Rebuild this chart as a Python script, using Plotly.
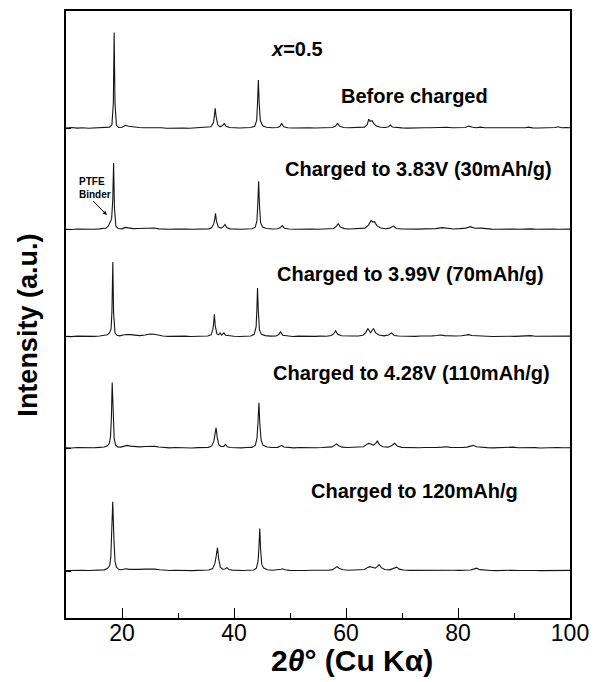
import plotly.graph_objects as go

# ---- data (2theta, intensity above each pattern's baseline, a.u.) ----
before_charged = [(10,0.3),(11,0.8),(12,0.2),(13,0.6),(14,0.1),(15,0.5),(16,0.2),(17,0.6),(17.8,1.2),(18.2,3.5),(18.45,25),(18.6,96),(18.75,25),(19.0,3),(19.4,0.8),(20.0,1.0),(20.6,3.0),(21.2,2.0),(22,1.2),(23,0.8),(24,0.6),(25,0.8),(26,0.3),(27,0.5),(28,0.1),(29,0.4),(30,0.0),(31,0.3),(32,0.1),(33,0.4),(34,0.2),(35,0.6),(35.9,1.5),(36.35,6),(36.55,15),(36.65,20),(36.8,12),(37.1,3.5),(37.5,1.5),(37.9,2.5),(38.25,4.7),(38.6,2),(39.2,0.8),(40,0.5),(41,0.3),(42,0.6),(43,0.8),(43.7,2),(44.05,8),(44.2,25),(44.35,48.4),(44.5,25),(44.7,8),(45.1,2.5),(45.8,1),(46.8,0.5),(47.8,0.8),(48.2,2),(48.5,4.7),(48.9,1.5),(49.6,0.5),(50.5,0.3),(51.5,0.6),(52.5,0.2),(53.5,0.5),(54.5,0.3),(55.5,0.6),(56.5,0.4),(57.5,0.8),(58.1,2),(58.5,5),(58.9,2),(59.6,0.8),(60.5,0.5),(61.5,0.7),(62.5,0.6),(63.3,1.2),(63.8,3.5),(64.05,9.3),(64.3,7),(64.65,7.7),(65.0,4.5),(65.5,2),(66.2,1),(67,0.8),(67.6,1.5),(67.9,3.3),(68.3,1.2),(69,0.6),(70,0.4),(71,0.2),(72,0.5),(73,0.3),(74,0.6),(75,0.5),(76,0.8),(77.2,1.5),(78,1.0),(79,0.6),(80,0.8),(80.7,1.2),(81.3,0.8),(81.9,2.2),(82.6,1.0),(83.3,0.6),(84,1.2),(84.8,0.5),(86,0.4),(87,0.2),(88,0.5),(89,0.3),(90,0.4),(91,0.2),(92,0.5),(92.6,1.2),(93.3,0.4),(94.5,0.3),(95.5,0.5),(96.5,0.3),(97.3,0.8),(97.9,1.5),(98.5,0.6),(99.3,0.8),(100,0.5)]

charged_383V = [(10,0.4),(11,0.1),(12,0.6),(13,0.3),(14,0.7),(15,0.4),(16,0.8),(16.8,1.0),(17.2,1.6),(17.6,4),(17.9,7),(18.15,11),(18.35,30),(18.5,66.7),(18.65,22),(18.9,3.5),(19.3,1.2),(20.0,0.8),(20.6,2.2),(21.2,1.6),(22,1.0),(23,1.2),(24,1.5),(25,2.0),(25.8,1.6),(26.6,0.8),(27.5,0.5),(28.5,0.3),(29.5,0.6),(30.5,0.2),(31.5,0.5),(32.5,0.3),(33.5,0.6),(34.5,0.4),(35.5,0.8),(36.0,1.8),(36.4,6),(36.6,12),(36.7,16.3),(36.85,9),(37.2,2.5),(37.7,1.5),(38.1,3),(38.4,5.2),(38.7,2),(39.3,0.8),(40.2,0.5),(41.2,0.3),(42.2,0.7),(43.2,0.9),(43.8,2.5),(44.1,9),(44.25,26),(44.4,48.4),(44.55,24),(44.75,7),(45.1,2.5),(45.8,1.2),(46.8,0.6),(47.8,0.9),(48.3,2),(48.6,4),(49,1.4),(49.8,0.6),(51,0.4),(52,0.7),(53,0.4),(54,0.6),(55,0.3),(56,0.7),(57,0.6),(57.8,1.2),(58.3,3.5),(58.6,5.9),(59,2.5),(59.7,1.0),(60.6,0.6),(61.6,0.8),(62.6,0.7),(63.4,1.5),(64.0,4.5),(64.5,9.3),(64.8,7.5),(65.1,8),(65.5,4),(66.1,1.8),(67,0.9),(67.8,1.5),(68.45,3.5),(69,1.2),(70,0.6),(71,0.4),(72,0.7),(73,0.5),(74,0.8),(75,0.6),(76,1.0),(77.2,2.0),(78.2,1.0),(79.2,0.7),(80.3,1.0),(81.4,1.5),(82.2,3),(83,1.4),(84.1,1.5),(85,0.7),(86,0.5),(87,0.3),(88,0.6),(89,0.4),(90,0.6),(91,0.3),(92,0.6),(93,0.8),(94,0.4),(95,0.6),(96,0.3),(97,0.6),(98,0.4),(99,0.7),(100,0.5)]

charged_399V = [(10,0.5),(11,0.2),(12,0.7),(13,0.4),(14,0.8),(15,0.5),(16,0.9),(16.8,1.2),(17.4,2),(17.8,4.5),(18.05,8),(18.2,25),(18.36,75),(18.5,24),(18.75,4),(19.1,1.5),(19.6,1.0),(20.2,1.8),(20.8,2.4),(21.5,2.2),(22.3,1.6),(23.2,1.2),(24.1,1.8),(25,2.8),(25.8,2.6),(26.5,1.5),(27.3,0.8),(28.3,0.5),(29.3,0.8),(30.3,0.4),(31.3,0.7),(32.3,0.3),(33.3,0.6),(34.3,0.5),(35.3,0.9),(35.9,2),(36.25,8),(36.4,16),(36.5,22.6),(36.65,11),(36.95,3),(37.25,2),(37.5,4),(37.8,1.6),(38.2,4),(38.5,1.5),(39.1,0.9),(40,0.6),(41,0.4),(42,0.8),(43,0.9),(43.6,2.5),(43.95,10),(44.08,27),(44.2,49),(44.35,25),(44.55,7),(44.9,2.5),(45.6,1.2),(46.5,0.7),(47.5,0.9),(48.0,2.2),(48.3,5),(48.7,1.5),(49.5,0.7),(50.5,0.4),(51.5,0.7),(52.5,0.4),(53.5,0.8),(54.5,0.5),(55.5,0.7),(56.5,0.6),(57.4,1.3),(57.85,3.5),(58.15,6),(58.5,2.5),(59.2,1.1),(60.2,0.7),(61.2,0.9),(62.2,0.8),(63,1.6),(63.5,4),(63.9,8.4),(64.4,4),(64.9,8.4),(65.3,4),(65.9,1.8),(66.8,1.0),(67.6,1.8),(68.1,4),(68.6,1.4),(69.4,0.8),(70.4,0.5),(71.4,0.7),(72.4,0.5),(73.4,0.8),(74.4,0.6),(75.4,1.0),(76.2,1.3),(76.9,1.8),(77.6,1.2),(78.6,0.8),(79.6,0.9),(80.6,1.1),(81.3,1.4),(81.9,2.2),(82.5,1.4),(83.3,1.0),(84.2,0.8),(85.2,0.6),(86.2,0.4),(87.2,0.7),(88.2,0.4),(89.2,0.6),(90.2,0.5),(91.2,0.7),(92.2,0.8),(93,1.2),(93.8,0.6),(95,0.5),(96,0.7),(97,0.4),(98,0.6),(99,0.5),(100,0.7)]

charged_428V = [(10,0.6),(11,0.3),(12,0.8),(13,0.5),(14,0.9),(15,0.6),(16,1.0),(16.8,1.4),(17.4,2.5),(17.75,5),(17.95,12),(18.1,30),(18.25,66),(18.4,32),(18.6,10),(18.85,3.5),(19.2,1.5),(19.8,1.2),(20.4,2.0),(20.9,3.0),(21.5,2.2),(22.3,1.6),(23.2,1.5),(24.1,1.8),(25,2.2),(25.8,2.0),(26.6,1.3),(27.5,0.8),(28.5,0.5),(29.5,0.8),(30.5,0.5),(31.5,0.7),(32.5,0.4),(33.5,0.7),(34.5,0.6),(35.4,1.0),(36.0,2.2),(36.4,7),(36.6,14),(36.8,20.7),(37.0,11),(37.3,3.5),(37.7,1.8),(38.15,2),(38.5,4),(38.8,1.6),(39.4,0.9),(40.3,0.6),(41.3,0.5),(42.3,0.8),(43.2,1.0),(43.8,3),(44.1,10),(44.28,26),(44.45,45.7),(44.62,24),(44.85,8),(45.2,3),(45.9,1.3),(46.8,0.8),(47.8,1.0),(48.2,2),(48.5,3),(48.9,1.3),(49.7,0.7),(50.7,0.5),(51.7,0.8),(52.7,0.5),(53.7,0.8),(54.7,0.6),(55.7,0.8),(56.7,0.8),(57.5,1.5),(58.0,3.2),(58.3,4.5),(58.7,2.6),(59.3,1.2),(60.3,0.8),(61.3,0.9),(62.3,0.8),(63.1,1.6),(63.6,3.5),(64.0,5),(64.5,4.4),(64.9,3.2),(65.3,5),(65.6,7.3),(66.0,3.5),(66.6,1.6),(67.5,1.2),(68.2,2.8),(68.7,5),(69.2,2),(70,1.0),(71,0.7),(72,0.8),(73,0.6),(74,0.9),(75,0.7),(76,0.9),(77.2,1.2),(77.9,1.6),(78.7,1.0),(79.7,0.8),(80.7,0.9),(81.6,1.2),(82.2,2.0),(82.7,3),(83.3,1.6),(84.2,0.9),(85.2,0.7),(86.2,0.5),(87.2,0.8),(88.2,0.6),(89.2,0.9),(89.9,1.2),(90.7,0.6),(91.7,0.8),(92.7,0.5),(93.7,0.7),(94.7,0.4),(95.7,0.7),(96.7,0.5),(97.7,0.8),(98.7,0.6),(99.5,0.9),(100,0.6)]

charged_120mAh = [(10,0.5),(11,0.8),(12,0.4),(13,0.9),(14,0.6),(15,1.0),(16,0.7),(16.8,1.3),(17.4,2.5),(17.8,5.5),(18.0,14),(18.15,35),(18.35,69.6),(18.55,33),(18.75,10),(19.0,4),(19.4,1.8),(19.9,1.4),(20.4,2.0),(20.7,2.4),(21.3,1.8),(22.2,1.6),(23.1,1.8),(24.0,2.0),(25.0,2.2),(25.9,2.0),(26.7,1.4),(27.5,1.0),(28.5,0.7),(29.5,0.9),(30.5,0.6),(31.5,0.8),(32.5,0.5),(33.5,0.8),(34.5,0.7),(35.5,1.1),(36.2,2.5),(36.6,8),(36.85,16),(37.05,23.5),(37.25,13),(37.55,4),(37.95,1.9),(38.4,2.2),(38.75,3.5),(39.1,1.6),(39.7,1.0),(40.6,0.7),(41.6,0.6),(42.6,0.9),(43.5,1.1),(44.0,3),(44.3,10),(44.45,24),(44.6,42.6),(44.75,22),(44.95,7),(45.3,3),(46,1.4),(46.9,0.9),(47.9,1.1),(48.4,1.8),(48.7,2.4),(49.1,1.3),(49.9,0.8),(50.9,0.6),(51.9,0.9),(52.9,0.6),(53.9,0.9),(54.9,0.7),(55.9,0.9),(56.9,0.9),(57.6,1.5),(58.1,3.2),(58.4,4.5),(58.8,2.6),(59.5,1.3),(60.5,0.9),(61.5,1.0),(62.5,0.9),(63.3,1.7),(63.8,3.5),(64.2,4.5),(64.7,3.8),(65.2,3.0),(65.6,4.5),(65.9,6.6),(66.3,3.5),(66.9,1.6),(67.8,1.3),(68.5,2.8),(69.05,4),(69.5,2),(70.3,1.1),(71.3,0.8),(72.3,0.9),(73.3,0.7),(74.3,1.0),(75.3,0.8),(76.3,0.9),(77.4,1.1),(78.3,1.4),(79.2,0.9),(80.2,0.8),(81.2,0.9),(82.2,1.2),(82.8,2.0),(83.3,3),(83.9,1.5),(84.8,0.9),(85.8,0.7),(86.8,0.5),(87.8,0.8),(88.8,0.6),(89.8,0.9),(90.8,0.6),(91.8,0.8),(92.8,0.5),(93.8,0.7),(94.8,0.5),(95.8,0.7),(96.8,0.5),(97.8,0.8),(98.8,0.6),(99.5,1.2),(100,0.8)]

patterns = [before_charged, charged_383V, charged_399V, charged_428V, charged_120mAh]
pattern_labels = ["Before charged", "Charged to 3.83V (30mAh/g)", "Charged to 3.99V (70mAh/g)",
                  "Charged to 4.28V (110mAh/g)", "Charged to 120mAh/g"]
# vertical stacking offset of each pattern's baseline (a.u.)
baselines = [491.0, 389.4, 281.9, 170.1, 47.0]
x_ticks = [20, 40, 60, 80, 100]
x_minor = [30, 50, 70, 90]

FONT = "Liberation Sans, Arial, sans-serif"
fig = go.Figure()
for pat, base, name in zip(patterns, baselines, pattern_labels):
    xs = [p[0] for p in pat]
    ys = [p[1] + base for p in pat]
    fig.add_trace(go.Scatter(x=xs, y=ys, mode="lines", name=name,
                             line=dict(color="#151515", width=1.1), showlegend=False))

ann = []
label_pos = [(72.3, 523.6), (73.0, 449.9), (71.6, 344.9), (71.7, 245.9), (72.2, 126.9)]
for (lx, ly), txt in zip(label_pos, pattern_labels):
    ann.append(dict(x=lx, y=ly, xref="x", yref="y", text="<b>%s</b>" % txt, showarrow=False,
                    font=dict(family=FONT, size=20, color="black")))
ann.append(dict(x=51.2, y=571, xref="x", yref="y", text="<b><i>x</i>=0.5</b>", showarrow=False,
                font=dict(family=FONT, size=20, color="black")))
ann.append(dict(x=12.0, y=431, xref="x", yref="y", text="<b>PTFE<br>Binder</b>", showarrow=False,
                xanchor="left", align="left", font=dict(family=FONT, size=10, color="black")))
ann.append(dict(x=17.3, y=404, xref="x", yref="y", ax=14.6, ay=419.5, axref="x", ayref="y",
                text="", showarrow=True, arrowhead=2, arrowsize=0.8, arrowwidth=1, arrowcolor="black"))
ann.append(dict(x=-0.075, y=0.482, xref="paper", yref="paper", text="<b>Intensity (a.u.)</b>",
                xanchor="center", yanchor="middle",
                showarrow=False, textangle=-90, font=dict(family=FONT, size=27, color="black")))
ann.append(dict(x=0.568, y=-0.0705, xref="paper", yref="paper", xanchor="center", yanchor="middle",
                text="<b>2<i>θ</i>° (Cu Kα)</b>",
                showarrow=False, font=dict(family=FONT, size=30, color="black")))

fig.update_layout(
    width=598, height=682, margin=dict(l=66, r=28, t=9, b=64),
    paper_bgcolor="white", plot_bgcolor="white", annotations=ann,
    xaxis=dict(range=[10, 100], tickvals=x_ticks, ticks="inside", ticklen=10, tickwidth=1.2,
               tickcolor="black", showline=True, linecolor="black", linewidth=1.5, mirror=True,
               showgrid=False, zeroline=False, ticklabelstandoff=-6,
               tickfont=dict(family=FONT, size=23, color="black"),
               minor=dict(tickvals=x_minor, ticks="inside", ticklen=5, tickwidth=1.2, tickcolor="black")),
    yaxis=dict(range=[0, 608.6], tickvals=baselines, ticks="inside", ticklen=5, tickwidth=1,
               tickcolor="black", showticklabels=False, showline=True, linecolor="black",
               linewidth=1.5, mirror=True, showgrid=False, zeroline=False),
)
fig.write_html("out.html")
